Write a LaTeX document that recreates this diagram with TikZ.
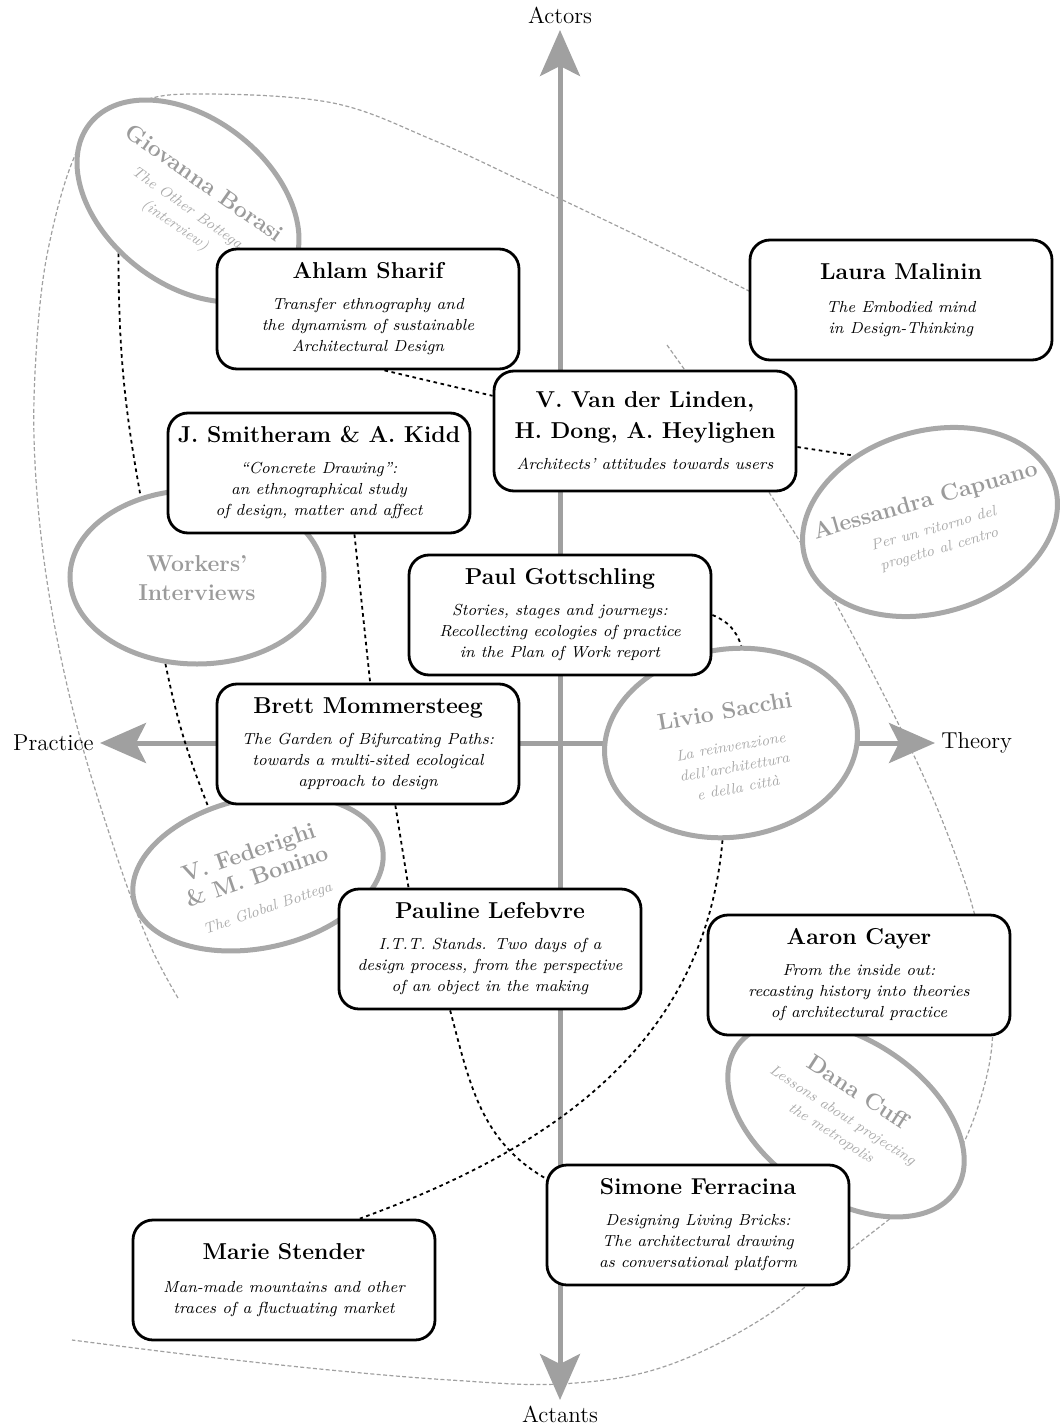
\documentclass[tikz,border=0pt]{standalone}
\usepackage{fontspec}
\usepackage{tikz}
\usetikzlibrary{arrows.meta,backgrounds,positioning,shapes.geometric}

\definecolor{axisgray}{RGB}{160,160,160}
\definecolor{blobline}{RGB}{168,168,168}
\definecolor{blobhead}{RGB}{155,155,155}
\definecolor{blobsub}{RGB}{170,170,170}

\newcommand{\boxtitle}{\fontsize{11.5}{14}\selectfont\upshape\bfseries}
\newcommand{\boxsub}{\fontsize{8}{10.5}\selectfont\itshape}
\newcommand{\blobtitle}{\fontsize{11.5}{13}\selectfont\upshape\bfseries\color{blobhead}}

\tikzset{
  paper/.style={draw, line width=1.4pt, rounded corners=10pt, fill=white,
    minimum width=151pt, minimum height=60pt, align=center, font=\boxsub},
  blob/.style={ellipse, draw=blobline, line width=2.5pt, fill=white, inner sep=0pt},
  blobtext/.style={align=center, text=blobsub, font=\fontsize{7.5}{10.5}\selectfont\itshape},
  axis/.style={draw=axisgray, line width=2.5pt, >={Stealth[length=23pt,width=20pt,inset=5pt]}, <->},
  axislabel/.style={font=\fontsize{11.5}{14}\selectfont, inner sep=3pt},
  link/.style={line width=0.9pt, dash pattern=on 1.8pt off 1.8pt},
  guide/.style={draw=axisgray, line width=0.6pt, dash pattern=on 2pt off 1.2pt}
}

\begin{document}
\begin{tikzpicture}[x=0.5pt,y=-0.5pt]
\useasboundingbox (0,0) rectangle (1062,1428);

\coordinate (actorstip) at (560,30);
\coordinate (actantstip) at (560,1400);
\coordinate (practicetip) at (100,743);
\coordinate (theorytip) at (935,743);
\node[axislabel, above=0pt of actorstip] (actors) {Actors};
\node[axislabel, below=0pt of actantstip] (actants) {Actants};
\node[axislabel, left=0pt of practicetip] (practice) {Practice};
\node[axislabel, right=0pt of theorytip] (theory) {Theory};

\node[blob, minimum width=125pt, minimum height=83pt, rotate=-38] (giovanna) at (188,201) {};
\node[blobtext, rotate=-35] (giovanna-t) at (190,204) {{\blobtitle Giovanna Borasi}\\[3pt] The Other Bottega\\(interview)};
\node[blob, minimum width=127pt, minimum height=87pt] (workers) at (197,577) {};
\node[blobtext] (workers-t) at (197,578) {{\blobtitle Workers’}\\[4pt] {\blobtitle Interviews}};
\node[blob, minimum width=130pt, minimum height=91pt, rotate=16] (capuano) at (930,522) {};
\node[blobtext, rotate=16] (capuano-t) at (932,524) {{\blobtitle Alessandra Capuano}\\[3pt] Per un ritorno del\\progetto al centro};
\node[blob, minimum width=127pt, minimum height=94pt, rotate=8] (livio) at (731,743) {};
\node[blobtext, rotate=10] (livio-t) at (731,748) {{\blobtitle Livio Sacchi}\\[6pt] La reinvenzione\\dell’architettura\\e della città};
\node[blob, minimum width=127pt, minimum height=75pt, rotate=12] (federighi) at (258,873) {};
\node[blobtext, rotate=19] (federighi-t) at (258,880) {{\blobtitle V. Federighi}\\[2pt] {\blobtitle \& M. Bonino}\\[5pt] The Global Bottega};
\node[blob, minimum width=131pt, minimum height=80pt, rotate=-33] (dana) at (846,1119) {};
\node[blobtext, rotate=-33] (dana-t) at (845,1112) {{\blobtitle Dana Cuff}\\[2pt] Lessons about projecting\\the metropolis};

\node[paper] (ahlam) at (368,309) {{\boxtitle Ahlam Sharif}\\[5pt]
  Transfer ethnography and\\the dynamism of sustainable\\Architectural Design};
\node[paper] (laura) at (901,300) {{\boxtitle Laura Malinin}\\[6pt]
  The Embodied mind\\in Design-Thinking};
\node[paper] (linden) at (645,431) {{\boxtitle V. Van der Linden,}\\[5pt] {\boxtitle H. Dong, A. Heylighen}\\[5pt]
  Architects’ attitudes towards users};
\node[paper] (smitheram) at (319,473) {{\boxtitle J. Smitheram \& A. Kidd}\\[5pt]
  “Concrete Drawing”:\\an ethnographical study\\of design, matter and affect};
\node[paper] (paul) at (560,615) {{\boxtitle Paul Gottschling}\\[5pt]
  Stories, stages and journeys:\\Recollecting ecologies of practice\\in the Plan of Work report};
\node[paper] (brett) at (368,744) {{\boxtitle Brett Mommersteeg}\\[5pt]
  The Garden of Bifurcating Paths:\\towards a multi-sited ecological\\approach to design};
\node[paper] (pauline) at (490,949) {{\boxtitle Pauline Lefebvre}\\[5pt]
  I.T.T. Stands. Two days of a\\design process, from the perspective\\of an object in the making};
\node[paper] (aaron) at (859,975) {{\boxtitle Aaron Cayer}\\[5pt]
  From the inside out:\\recasting history into theories\\of architectural practice};
\node[paper] (simone) at (698,1225) {{\boxtitle Simone Ferracina}\\[5pt]
  Designing Living Bricks:\\The architectural drawing\\as conversational platform};
\node[paper] (marie) at (284,1280) {{\boxtitle Marie Stender}\\[6pt]
  Man-made mountains and other\\traces of a fluctuating market};

\begin{scope}[on background layer]
\draw[axis] (actantstip) -- (actorstip);
\draw[axis] (practicetip) -- (theorytip);
\draw[guide] plot[smooth, tension=0.6] coordinates {(178,998) (150,945) (118,860) (78,730)
  (50,600) (36,480) (35,373) (48,250) (83,140) (140,102) (205,94) (333,103) (433,140)
  (520,180) (640,237) (749,291)};
\draw[guide] plot[smooth, tension=0.6] coordinates {(667,345) (720,420) (772,497) (830,593)
  (900,727) (940,815) (972,905) (990,990) (990,1060) (965,1140) (930,1185) (850,1250)
  (760,1320) (660,1368) (560,1384) (450,1380) (330,1370) (200,1356) (72,1340)};
\draw[link] (ahlam.-75) -- (linden.167);
\draw[link] (linden.-6) -- (capuano.123);
\draw[link] (giovanna.-105) to[bend right=5] (workers.125);
\draw[link] (workers.-110) to[bend right=5] (federighi.115);
\draw[link] (smitheram.-60) -- (brett.88);
\draw[link] (brett.-66) -- (pauline.143);
\draw[link] (paul.east) to[bend left=25] (livio.76);
\draw[link] (livio.-103) to[out=-95, in=20] (marie.39);
\draw[link] (pauline.-123) to[out=-75, in=150] (simone.163);
\end{scope}
\end{tikzpicture}
\end{document}
